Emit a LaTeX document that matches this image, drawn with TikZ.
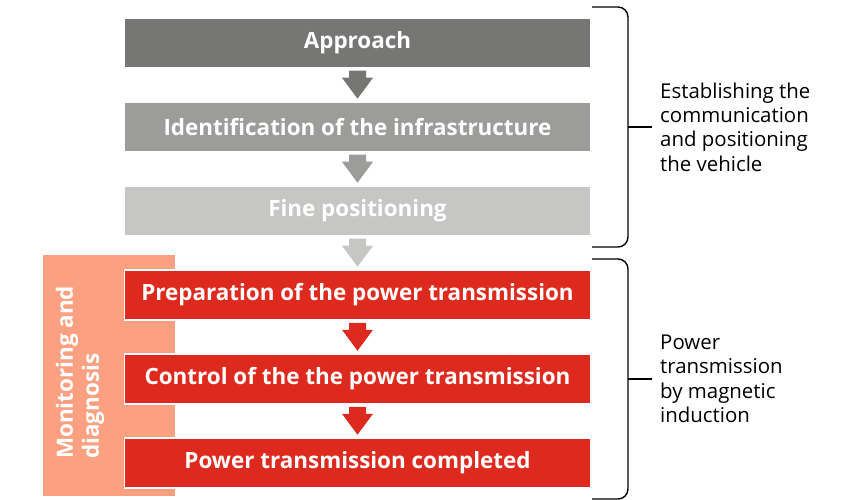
\documentclass[tikz,border=0pt]{standalone}
\usepackage{fontspec}
\setmainfont{Open Sans}
\usetikzlibrary{calc}
\definecolor{gA}{HTML}{767675}
\definecolor{gB}{HTML}{9C9C9B}
\definecolor{gC}{HTML}{C6C6C5}
\definecolor{rd}{HTML}{DE2A1E}
\definecolor{salmon}{HTML}{FBA080}
\tikzset{
  x=1bp, y=-1bp,
  stepbox/.style={minimum width=466bp, minimum height=50bp, inner sep=0pt, draw=white, line width=1.5bp,
     text=white, font=\fontsize{22.5}{26}\selectfont\bfseries},
  sidetext/.style={anchor=west, align=left, inner sep=0pt, font=\fontsize{20.5}{24.5}\selectfont},
  brace/.style={line width=1.4bp, rounded corners=10bp},
}
\newcommand{\blockarrow}[2]{%
  \fill[#2] ($(#1.south)+(-8.5,2)$) -- ($(#1.south)+(8.5,2)$) -- ($(#1.south)+(8.5,9)$)
    -- ($(#1.south)+(15.5,9)$) -- ($(#1.south)+(0,30)$) -- ($(#1.south)+(-15.5,9)$)
    -- ($(#1.south)+(-8.5,9)$) -- cycle;}
\begin{document}
\begin{tikzpicture}
\useasboundingbox (0,0) rectangle (856,500);
% panel
\fill[salmon] (43,255) rectangle (175,496);
\node[rotate=90, anchor=west, align=left, inner sep=0pt, text=white,
  font=\fontsize{22.5}{26}\selectfont\bfseries] (mon) at (80,459) {Monitoring and\\diagnosis};
% boxes
\node[stepbox, fill=gA] (b1) at (357.5,43) {Approach};
\node[stepbox, fill=gB] (b2) at (357.5,127) {Identification of the infrastructure};
\node[stepbox, fill=gC] (b3) at (357.5,211) {Fine positioning};
\node[stepbox, fill=rd] (b4) at (357.5,295) {Preparation of the power transmission};
\node[stepbox, fill=rd] (b5) at (357.5,379) {Control of the the power transmission};
\node[stepbox, fill=rd] (b6) at (357.5,463) {Power transmission completed};
% arrows
\blockarrow{b1}{gA}
\blockarrow{b2}{gB}
\blockarrow{b3}{gC}
\blockarrow{b4}{rd}
\blockarrow{b5}{rd}
% braces
\coordinate (t1) at (592,7);
\coordinate (t2) at (592,247);
\coordinate (m1) at (628,127);
\draw[brace] (t1) -- (628,7) -- (628,247) -- (t2);
\draw[line width=1.4bp] (m1) -- ++(24,0);
\node[sidetext] (s1) at (660,127) {Establishing the\\communication\\and positioning\\the vehicle};
\coordinate (u1) at (592,259);
\coordinate (u2) at (592,499);
\coordinate (m2) at (628,379);
\draw[brace] (u1) -- (628,259) -- (628,499) -- (u2);
\draw[line width=1.4bp] (m2) -- ++(24,0);
\node[sidetext] (s2) at (660,379) {Power\\transmission\\by magnetic\\induction};
\end{tikzpicture}
\end{document}
